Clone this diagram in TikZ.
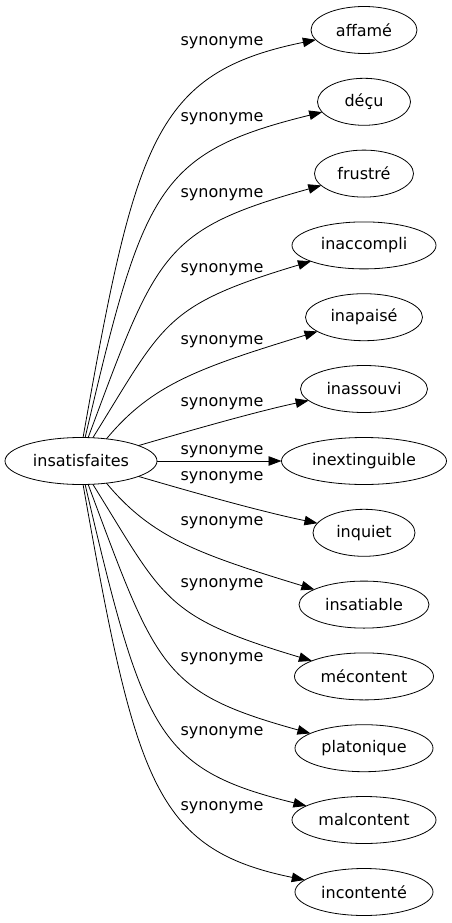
\documentclass[tikz,border=0pt]{standalone}
\usepackage{fontspec}
\setmainfont{DejaVu Sans}
\usetikzlibrary{shapes.geometric,arrows.meta}
\begin{document}
\begin{tikzpicture}[x=1pt,y=-1pt,
  word/.style={ellipse,draw,line width=0.8pt,inner sep=0pt,outer sep=0pt,minimum height=47pt,font=\fontsize{16}{19}\selectfont},
  syn/.style={font=\fontsize{16}{19}\selectfont,inner sep=0pt},
  link/.style={line width=0.8pt,-{Triangle[length=13pt,width=9.5pt]}}]
\useasboundingbox (0,0) rectangle (452,923);
\node[word,minimum width=152pt] (L) at (81,461) {insatisfaites};
\node[word,minimum width=106pt] (r0) at (364,30) {affamé};
\node[word,minimum width=93pt] (r1) at (364,101.8) {déçu};
\node[word,minimum width=99pt] (r2) at (364,173.6) {frustré};
\node[word,minimum width=144pt] (r3) at (364,245.4) {inaccompli};
\node[word,minimum width=117pt] (r4) at (364,317.2) {inapaisé};
\node[word,minimum width=127pt] (r5) at (364,389) {inassouvi};
\node[word,minimum width=165pt] (r6) at (364,461) {inextinguible};
\node[word,minimum width=102pt] (r7) at (364,532.8) {inquiet};
\node[word,minimum width=130pt] (r8) at (364,604.6) {insatiable};
\node[word,minimum width=139pt] (r9) at (364,676.4) {mécontent};
\node[word,minimum width=138pt] (r10) at (364,748.2) {platonique};
\node[word,minimum width=144pt] (r11) at (364,820) {malcontent};
\node[word,minimum width=138pt] (r12) at (364,892) {incontenté};
% top edges
\draw[link] (L.85) .. controls (135.5,141.2) and (154.2,72.7) .. (r0);
\draw[link] (L.80.5) .. controls (143.4,188.6) and (157.3,152.7) .. (r1);
\draw[link] (L.73.7) .. controls (157,252.8) and (162,229.7) .. (r2);
\draw[link] (L.63) .. controls (164.6,322.5) and (163.3,305.5) .. (r3);
\draw[link] (L.41) .. controls (151.7,384.4) and (198.3,368) .. (r4);
\draw[link] (L.15.6) .. controls (195.2,429) and (261.1,410.4) .. (r5);
\draw[link] (L) -- (r6);
% bottom edges
\draw[link] (L.-15.6) .. controls (195.2,493) and (261.1,511.6) .. (r7);
\draw[link] (L.-41) .. controls (151.7,537.6) and (198.3,554) .. (r8);
\draw[link] (L.-63) .. controls (164.6,599.5) and (163.3,616.5) .. (r9);
\draw[link] (L.-73.7) .. controls (157,669.2) and (162,692.3) .. (r10);
\draw[link] (L.-80.5) .. controls (143.4,733.4) and (157.3,769.3) .. (r11);
\draw[link] (L.-85) .. controls (135.5,780.8) and (154.2,849.3) .. (r12);
% labels
\node[syn] (s0) at (222,42.7) {synonyme};
\node[syn] (s1) at (222,118.3) {synonyme};
\node[syn] (s2) at (222,195) {synonyme};
\node[syn] (s3) at (222,270) {synonyme};
\node[syn] (s4) at (222,341.7) {synonyme};
\node[syn] (s5) at (222,403.3) {synonyme};
\node[syn] (s6) at (222,452) {synonyme};
\node[syn] (s7) at (222,478) {synonyme};
\node[syn] (s8) at (222,523) {synonyme};
\node[syn] (s9) at (222,585) {synonyme};
\node[syn] (s10) at (222,659) {synonyme};
\node[syn] (s11) at (222,733) {synonyme};
\node[syn] (s12) at (222,808) {synonyme};
\end{tikzpicture}
\end{document}
